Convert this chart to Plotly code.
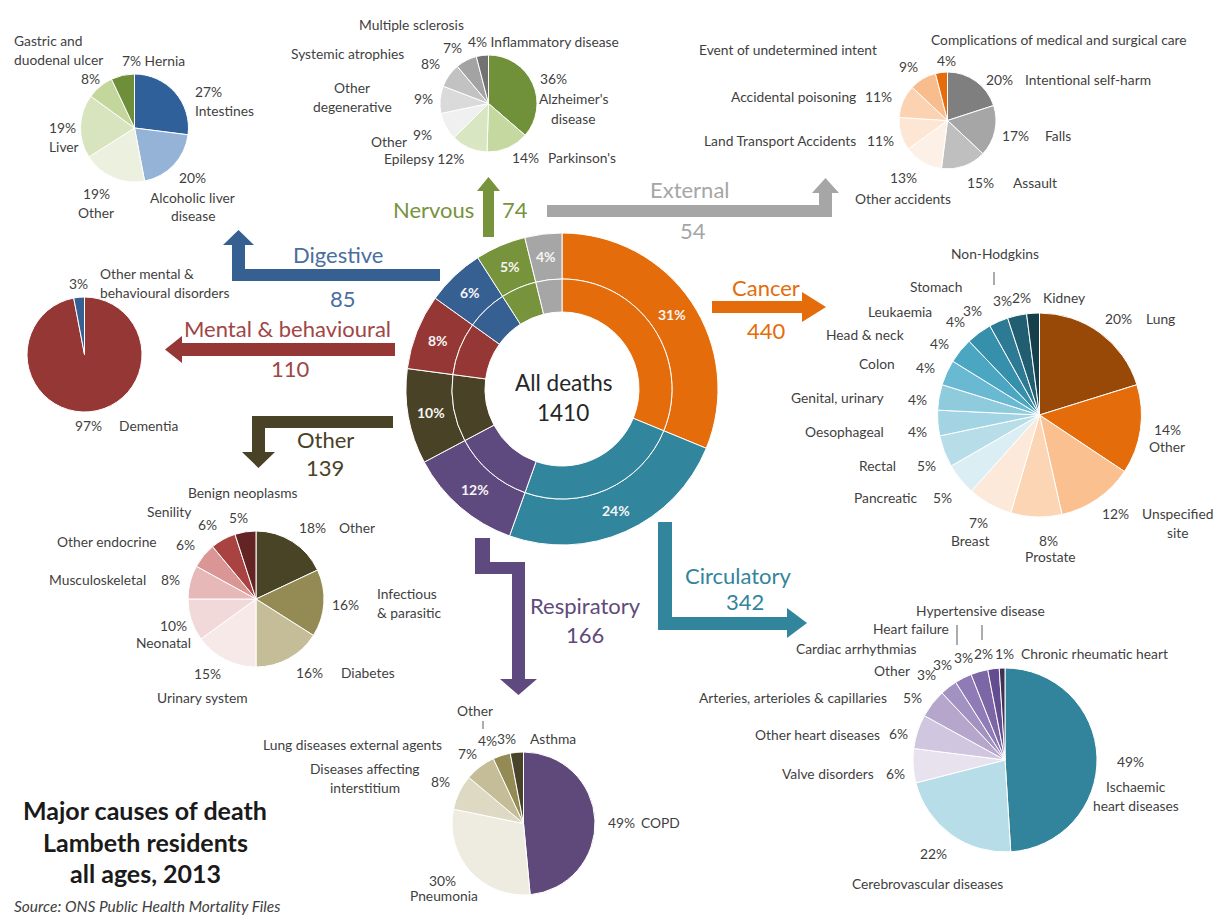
import math
import plotly.graph_objects as go

W, H = 1216, 917
FONT = "Lato"
LBL = "#3f3f3f"
SMALL = 13.8
BIG = 22

# ---------------- data ----------------
cat_names = ["Cancer", "Circulatory", "Respiratory", "Other", "Mental & behavioural",
             "Digestive", "Nervous", "External"]
cat_values = [440, 342, 166, 139, 110, 85, 74, 54]
cat_colors = ["#E46C0A", "#31859C", "#5F4A80", "#4A4226", "#953735", "#376092", "#77933C", "#A6A6A6"]

dig_names = ["Intestines", "Alcoholic liver disease", "Other", "Liver", "Gastric and duodenal ulcer", "Hernia"]
dig_pct = [27, 20, 19, 19, 8, 7]
dig_colors = ["#30609A", "#95B3D7", "#EBF1DE", "#D7E4BD", "#C3D69B", "#6E8E3A"]

ner_names = ["Alzheimer's disease", "Parkinson's", "Epilepsy", "Other", "Other degenerative",
             "Systemic atrophies", "Multiple sclerosis", "Inflammatory disease"]
ner_pct = [36, 14, 12, 9, 9, 8, 7, 4]
ner_colors = ["#70913A", "#C4D8A0", "#D9E6C2", "#F0F0F0", "#DADADA", "#C2C2C2", "#A3A3A3", "#727272"]

ext_names = ["Intentional self-harm", "Falls", "Assault", "Other accidents", "Land Transport Accidents",
             "Accidental poisoning", "Event of undetermined intent",
             "Complications of medical and surgical care"]
ext_pct = [20, 17, 15, 13, 11, 11, 9, 4]
ext_colors = ["#7F7F7F", "#A6A6A6", "#BFBFBF", "#FDF1E7", "#FDE6D4", "#FBD3B2", "#F9BC8C", "#E46C0A"]

can_names = ["Lung", "Other", "Unspecified site", "Prostate", "Breast", "Pancreatic", "Rectal",
             "Oesophageal", "Genital, urinary", "Colon", "Head & neck", "Leukaemia", "Stomach",
             "Non-Hodgkins", "Kidney"]
can_pct = [20, 14, 12, 8, 7, 5, 5, 4, 4, 4, 4, 4, 3, 3, 2]
can_colors = ["#984807", "#E46C0A", "#FAC090", "#FCD5B5", "#FDE9D9", "#DAEEF3", "#B7DEE8",
              "#A3D4E3", "#8ECBDC", "#68B9D1", "#4BA6C2", "#3790AB", "#2D7A94", "#215E72", "#163F4C"]

men_names = ["Dementia", "Other mental & behavioural disorders"]
men_pct = [97, 3]
men_colors = ["#953735", "#376092"]

oth_names = ["Other", "Infectious & parasitic", "Diabetes", "Urinary system", "Neonatal",
             "Musculoskeletal", "Other endocrine", "Senility", "Benign neoplasms"]
oth_pct = [18, 16, 16, 15, 10, 8, 6, 6, 5]
oth_colors = ["#4A4427", "#948A54", "#C4BD97", "#F8E9E9", "#F2D9D9", "#E6B9B8", "#D99694", "#A94342", "#652424"]

res_names = ["COPD", "Pneumonia", "Diseases affecting interstitium", "Lung diseases external agents",
             "Other", "Asthma"]
res_pct = [49, 30, 8, 7, 4, 3]
res_colors = ["#5F497A", "#EEECE1", "#DDD9C3", "#C4BD97", "#948A54", "#494429"]

cir_names = ["Ischaemic heart diseases", "Cerebrovascular diseases", "Valve disorders",
             "Other heart diseases", "Arteries, arterioles & capillaries", "Other",
             "Cardiac arrhythmias", "Heart failure", "Hypertensive disease", "Chronic rheumatic heart"]
cir_pct = [49, 22, 6, 6, 5, 3, 3, 3, 2, 1]
cir_colors = ["#31849B", "#B7DEE8", "#E8E2EE", "#D0C6DF", "#B6A6CB", "#A292C2", "#8F7BB5",
              "#7D66A6", "#644C90", "#3F3151"]

BR = {
    "Gastric and duodenal ulcer": "Gastric and<br>duodenal ulcer",
    "Alcoholic liver disease": "Alcoholic liver<br>disease",
    "Alzheimer's disease": "Alzheimer's<br>disease",
    "Other degenerative": "Other<br>degenerative",
    "Unspecified site": "Unspecified<br>site",
    "Other mental & behavioural disorders": "Other mental &<br>behavioural disorders",
    "Infectious & parasitic": "Infectious<br>& parasitic",
    "Diseases affecting interstitium": "Diseases affecting<br>interstitium",
    "Ischaemic heart diseases": "Ischaemic<br>heart diseases",
}


def X(x):
    return x / W


def Y(y):
    return 1 - y / H


def dom(cx, cy, r):
    return dict(x=[X(cx - r), X(cx + r)], y=[Y(cy + r), Y(cy - r)])


fig = go.Figure()
annotations = []
shapes = []


def txt(s, x, y, size=SMALL, color=LBL, anchor="center", bold=False, italic=False, lh=19):
    lines = s.split("<br>")
    n = len(lines)
    for k, line in enumerate(lines):
        yy = y + (k - (n - 1) / 2) * lh
        annotations.append(dict(
            text=line, x=X(x), y=Y(yy), xref="paper", yref="paper",
            xanchor=anchor, yanchor="middle", showarrow=False,
            font=dict(family=FONT, size=size, color=color,
                      weight="bold" if bold else "normal",
                      style="italic" if italic else "normal")))


def pie(values, colors, cx, cy, r, hole=0, lw=1):
    fig.add_trace(go.Pie(
        values=values, marker=dict(colors=colors, line=dict(color="white", width=lw)),
        sort=False, direction="clockwise", rotation=0, hole=hole,
        textinfo="none", hoverinfo="skip", showlegend=False,
        domain=dom(cx, cy, r)))


def place(names, pcts, specs):
    for spec in specs:
        i, tmpl, x, y = spec[:4]
        anchor = spec[4] if len(spec) > 4 else "center"
        n = BR.get(names[i], names[i])
        txt(tmpl.format(n=n, p=f"{pcts[i]}%"), x, y, anchor=anchor)


def poly(points, color):
    d = "M " + " L ".join(f"{X(px):.5f},{Y(py):.5f}" for px, py in points) + " Z"
    shapes.append(dict(type="path", path=d, xref="paper", yref="paper",
                       fillcolor=color, line=dict(width=0)))


def vline(x, y0, y1):
    shapes.append(dict(type="line", xref="paper", yref="paper", x0=X(x), x1=X(x),
                       y0=Y(y0), y1=Y(y1), line=dict(color="#595959", width=1)))


# ---------------- central donut ----------------
CX, CY, R_OUT, R_MID, R_IN = 562, 389, 156, 110, 77
pie(cat_values, cat_colors, CX, CY, R_OUT, hole=R_MID / R_OUT, lw=1)
pie(cat_values, cat_colors, CX, CY, R_MID, hole=R_IN / R_MID, lw=1)

total = sum(cat_values)
cum = 0
for v in cat_values:
    mid = (cum + v / 2) / total * 2 * math.pi
    cum += v
    px = CX + 133 * math.sin(mid)
    py = CY - 133 * math.cos(mid)
    txt(f"{round(v / total * 100)}%", px, py, size=14, color="#F5F5F5", bold=True)

txt("All deaths", 563, 383, size=22.5, color="#262626")
txt(f"{total}", 563, 412, size=22.5, color="#262626")

# ---------------- arrows ----------------
vals = dict(zip(cat_names, cat_values))
cols = dict(zip(cat_names, cat_colors))

# Nervous
poly([(483, 237), (483, 191), (477, 191), (488.5, 177), (500, 191), (494, 191), (494, 237)], cols["Nervous"])
txt("Nervous", 476, 210, size=BIG, color="#77933C", anchor="right")
txt(str(vals["Nervous"]), 500, 210, size=BIG, color="#77933C", anchor="left")
# External
poly([(547, 205), (819, 205), (819, 193), (812, 193), (825.5, 178), (839, 193), (832, 193),
      (832, 217), (547, 217)], cols["External"])
txt("External", 690, 189, size=BIG, color="#A6A6A6")
txt(str(vals["External"]), 693, 230, size=BIG, color="#A6A6A6")
# Digestive
poly([(440, 269), (245, 269), (245, 245), (254, 245), (238.5, 230), (223, 245), (232, 245),
      (232, 281), (440, 281)], cols["Digestive"])
txt("Digestive", 338, 254, size=BIG, color="#4A6E9E")
txt(str(vals["Digestive"]), 343, 298, size=BIG, color="#4A6E9E")
# Mental
poly([(395, 343), (182, 343), (182, 336), (165, 349.5), (182, 363), (182, 356), (395, 356)],
     cols["Mental & behavioural"])
txt("Mental & behavioural", 287, 328, size=BIG, color="#A04645")
txt(str(vals["Mental & behavioural"]), 290, 369, size=BIG, color="#A04645")
# Other
poly([(393, 416), (252, 416), (252, 452), (242, 452), (258.5, 468), (275, 452), (265, 452),
      (265, 428), (393, 428)], cols["Other"])
txt("Other", 325, 439, size=BIG, color="#4A4226")
txt(str(vals["Other"]), 325, 467, size=BIG, color="#4A4226")
# Respiratory
poly([(475, 538), (490, 538), (490, 562), (525, 562), (525, 679), (537, 679), (518.5, 695),
      (500, 679), (512, 679), (512, 574), (475, 574)], cols["Respiratory"])
txt("Respiratory", 585, 605, size=BIG, color="#604A7B")
txt(str(vals["Respiratory"]), 585, 634, size=BIG, color="#604A7B")
# Circulatory
poly([(658, 522), (672, 522), (672, 617), (787, 617), (787, 608), (807, 623), (787, 638),
      (787, 630), (658, 630)], cols["Circulatory"])
txt("Circulatory", 738, 575, size=BIG, color="#31859C")
txt(str(vals["Circulatory"]), 745, 601, size=BIG, color="#31859C")
# Cancer
poly([(712, 301), (802, 301), (802, 292), (826, 307), (802, 322), (802, 313), (712, 313)], cols["Cancer"])
txt("Cancer", 766, 288, size=BIG, color="#E46C0A")
txt(str(vals["Cancer"]), 766, 330, size=BIG, color="#E46C0A")

# ---------------- sub pies ----------------
pie(dig_pct, dig_colors, 134.5, 128, 54)
place(dig_names, dig_pct, [
    (4, "{n}", 12, 50, "left"), (4, "{p}", 90, 78), (5, "{p} {n}", 120, 60, "left"),
    (0, "{p}<br>{n}", 193, 101, "left"), (3, "{p}<br>{n}", 47, 137, "left"),
    (1, "{p}<br>{n}", 193, 197), (2, "{p}<br>{n}", 96, 203),
])

pie(ner_pct, ner_colors, 488.5, 103.5, 48.5)
place(ner_names, ner_pct, [
    (6, "{n}", 411, 25), (6, "{p}", 452, 47), (7, "{p} {n}", 466, 42, "left"),
    (5, "{n}", 347, 53), (5, "{p}", 430, 63), (4, "{n}", 352, 97), (4, "{p}", 423, 99),
    (3, "{p}", 422, 134), (3, "{n}", 389, 141), (2, "{n} {p}", 424, 158),
    (1, "{p}", 525, 157), (1, "{n}", 582, 157), (0, "{p}", 553, 78), (0, "{n}", 573, 108.5),
])

pie(ext_pct, ext_colors, 947.5, 120.5, 48.5)
place(ext_names, ext_pct, [
    (6, "{n}", 788, 50), (7, "{n}", 1059, 40), (6, "{p}", 908, 67), (7, "{p}", 946, 60),
    (0, "{p}", 1000, 80), (0, "{n}", 1088, 80), (5, "{n}", 793, 97), (5, "{p}", 878, 97),
    (4, "{n}", 780, 140), (4, "{p}", 880, 140), (1, "{p}", 1015, 135), (1, "{n}", 1058, 135),
    (3, "{p}", 903, 178), (3, "{n}", 903, 198), (2, "{p}", 980, 182), (2, "{n}", 1035, 182),
])

pie(can_pct, can_colors, 1039.5, 415, 102)
place(can_names, can_pct, [
    (13, "{n}", 995, 253), (12, "{n}", 936, 287), (12, "{p}", 972, 310), (13, "{p}", 1002, 300),
    (14, "{p}", 1021, 297), (14, "{n}", 1064, 297), (11, "{n}", 900, 311), (11, "{p}", 955, 322),
    (10, "{n}", 865, 335), (10, "{p}", 939, 343), (9, "{n}", 877, 363), (9, "{p}", 925, 368),
    (8, "{n}", 837, 398), (8, "{p}", 917, 400), (7, "{n}", 844, 432), (7, "{p}", 917, 432),
    (6, "{n}", 877, 465), (6, "{p}", 926, 465), (5, "{n}", 886, 497), (5, "{p}", 943, 497),
    (4, "{p}", 978, 522), (4, "{n}", 970, 540), (3, "{p}", 1048, 540), (3, "{n}", 1050, 556),
    (2, "{p}", 1115, 513), (2, "{n}", 1177, 523), (1, "{p}", 1167, 430), (1, "{n}", 1167, 447),
    (0, "{p}", 1118, 319), (0, "{n}", 1160, 319),
])
vline(994, 272, 285)

pie(men_pct, men_colors, 84.5, 354.5, 57.5)
place(men_names, men_pct, [
    (1, "{p}", 78, 283), (1, "{n}", 98, 283, "left"), (0, "{p}", 88, 425), (0, "{n}", 148, 425),
])

pie(oth_pct, oth_colors, 256, 599, 68)
place(oth_names, oth_pct, [
    (8, "{n}", 242, 493), (7, "{n}", 169, 511), (7, "{p}", 207, 524), (8, "{p}", 238, 517),
    (6, "{n}", 107, 541), (6, "{p}", 185, 544), (5, "{n}", 97, 579), (5, "{p}", 170, 579),
    (4, "{p}", 173, 625), (4, "{n}", 163, 642), (3, "{p}", 207, 673), (3, "{n}", 202, 697),
    (2, "{p}", 310, 672), (2, "{n}", 368, 672), (1, "{p}", 345, 604), (1, "{n}", 375, 603, "left"),
    (0, "{p}", 312, 527), (0, "{n}", 357, 527),
])

pie(res_pct, res_colors, 523.5, 823.5, 71.5)
place(res_names, res_pct, [
    (4, "{n}", 475, 710), (4, "{p}", 487, 740), (5, "{p}", 506, 738), (5, "{n}", 553, 738),
    (3, "{n}", 352, 744), (3, "{p}", 467, 753), (2, "{n}", 365, 778), (2, "{p}", 440, 781),
    (0, "{p}", 621, 822), (0, "{n}", 660, 822), (1, "{p}", 443, 880), (1, "{n}", 444, 895),
])
vline(483, 721, 729)

pie(cir_pct, cir_colors, 1005, 760, 92)
place(cir_names, cir_pct, [
    (8, "{n}", 980, 610), (7, "{n}", 911, 628), (6, "{n}", 856, 648), (7, "{p}", 963, 657),
    (6, "{p}", 942, 664), (8, "{p}", 983, 653), (9, "{p}", 1004, 653), (9, "{n}", 1094, 653),
    (5, "{n}", 892, 670), (5, "{p}", 926, 674), (4, "{n}", 793, 697), (4, "{p}", 912, 697),
    (3, "{n}", 817, 734), (3, "{p}", 898, 733), (2, "{n}", 828, 773), (2, "{p}", 895, 773),
    (0, "{p}", 1130, 761), (0, "{n}", 1136, 796), (1, "{p}", 933, 853), (1, "{n}", 927, 883),
])
vline(957, 625, 645)
vline(982, 625, 640)

# ---------------- title ----------------
txt("Major causes of death", 145, 810, size=25, color="#1a1a1a", bold=True)
txt("Lambeth residents", 145, 842, size=25, color="#1a1a1a", bold=True)
txt("all ages, 2013", 145, 873, size=25, color="#1a1a1a", bold=True)
txt("Source: ONS Public Health Mortality Files", 12, 906, size=15.5, color="#404040",
    anchor="left", italic=True)

fig.update_layout(
    width=W, height=H, margin=dict(l=0, r=0, t=0, b=0),
    paper_bgcolor="white", plot_bgcolor="white",
    annotations=annotations, shapes=shapes,
    font=dict(family=FONT),
)
fig.write_html(
    "out.html",
    config={"displayModeBar": False},
    post_script="document.body.style.margin='0';document.body.style.overflow='hidden';",
)
